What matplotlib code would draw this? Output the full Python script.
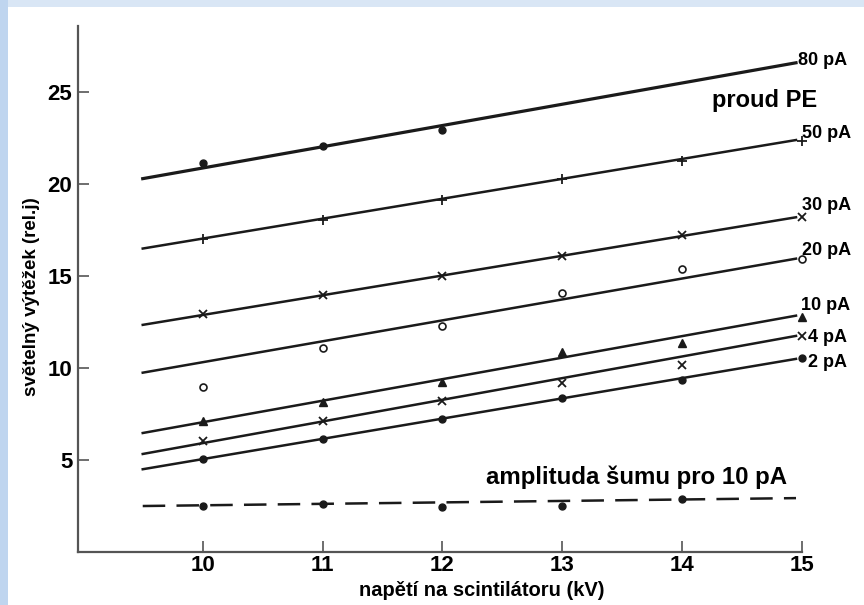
import numpy as np
import matplotlib.pyplot as plt
from matplotlib.patches import Rectangle

plt.rcParams['font.family'] = ['Liberation Sans', 'DejaVu Sans']
plt.rcParams['font.weight'] = 'bold'

# napeti (kV)
kv = np.array([10, 11, 12, 13, 14, 15])

# measured points for each PE current
pts_80 = [21.15, 22.07, 22.95]
pts_50 = [17.0, 18.05, 19.13, 20.3, 21.27, 22.35]
pts_30 = [12.93, 13.97, 15.0, 16.1, 17.25, 18.2]
pts_20 = [8.97, 11.09, 12.28, 14.1, 15.38, 15.92]
pts_10 = [7.12, 8.18, 9.24, 10.87, 11.36, 12.8]
pts_4 = [6.03, 7.12, 8.2, 9.18, 10.16, 11.74]
pts_2 = [5.05, 6.14, 7.23, 8.37, 9.35, 10.54]
pts_noise = [2.5, 2.62, 2.45, 2.5, 2.88]

# fitted lines (start at 9.5 kV, end at 14.95 kV)
fit_x = [9.5, 14.95]
fit_80 = [20.3, 26.6]
fit_50 = [16.5, 22.4]
fit_30 = [12.35, 18.2]
fit_20 = [9.75, 15.95]
fit_10 = [6.47, 12.85]
fit_4 = [5.33, 11.75]
fit_2 = [4.5, 10.5]
fit_noise = [2.5, 2.93]

labels = ['80 pA', '50 pA', '30 pA', '20 pA', '10 pA', '4 pA', '2 pA']
label_y = [26.47, 22.5, 18.6, 16.14, 13.15, 11.41, 10.05]
label_x = [14.97, 15.0, 15.0, 15.0, 14.99, 15.05, 15.05]

fig = plt.figure(figsize=(8.64, 6.05), dpi=100)
fig.patch.set_facecolor('#d9e6f5')
fig.patches.append(Rectangle((8 / 864, 0), 1, 1 - 7 / 605, transform=fig.transFigure,
                             facecolor='white', edgecolor='none', zorder=-10))
fig.patches.append(Rectangle((0, 0), 8 / 864, 1, transform=fig.transFigure,
                             facecolor='#bfd5ef', edgecolor='none', zorder=-10))

ax = fig.add_axes([78 / 864, 1 - 552 / 605, (802 - 78) / 864, (552 - 26) / 605])
ax.set_facecolor('none')

k = '#1a1a1a'
ax.plot(fit_x, fit_80, color=k, lw=2.3)
ax.plot(kv[:3], pts_80, 'o', color=k, ms=5, clip_on=False)
ax.plot(fit_x, fit_50, color=k, lw=1.8)
ax.plot(kv, pts_50, '+', color=k, ms=6.5, mew=1.3, clip_on=False)
ax.plot(fit_x, fit_30, color=k, lw=1.8)
ax.plot(kv, pts_30, 'x', color=k, ms=5.5, mew=1.3, clip_on=False)
ax.plot(fit_x, fit_20, color=k, lw=1.8)
ax.plot(kv, pts_20, 'o', color=k, mfc='white', ms=5, mew=1.2, clip_on=False)
ax.plot(fit_x, fit_10, color=k, lw=1.8)
ax.plot(kv, pts_10, '^', color=k, ms=5.5, clip_on=False)
ax.plot(fit_x, fit_4, color=k, lw=1.8)
ax.plot(kv, pts_4, 'x', color=k, ms=5.5, mew=1.3, clip_on=False)
ax.plot(fit_x, fit_2, color=k, lw=1.8)
ax.plot(kv, pts_2, 'o', color=k, ms=5, clip_on=False)
ax.plot(fit_x, fit_noise, color=k, lw=1.8, linestyle=(0, (9, 4.5)))
ax.plot(kv[:5], pts_noise, 'o', color=k, ms=5)

for t, x, y in zip(labels, label_x, label_y):
    ax.text(x, y, t, fontsize=13, fontweight='bold', va='baseline', ha='left', clip_on=False)
ax.text(14.25, 24.18, 'proud PE', fontsize=17, fontweight='bold', va='baseline', ha='left')
ax.text(12.36, 3.7, 'amplituda šumu pro 10 pA', fontsize=17.3, fontweight='bold',
        va='baseline', ha='left')

ax.set_xlim(8.96, 15.0)
ax.set_ylim(0, 28.6)
ax.set_xticks([10, 11, 12, 13, 14, 15])
ax.set_yticks([5, 10, 15, 20, 25])
ax.tick_params(direction='in', length=8, width=1.2, color='#555555', labelsize=16, pad=2)
ax.tick_params(axis='y', pad=4)
for lab in ax.get_xticklabels() + ax.get_yticklabels():
    lab.set_fontweight('bold')
for s in ['top', 'right']:
    ax.spines[s].set_visible(False)
for s in ['left', 'bottom']:
    ax.spines[s].set_color('#555555')
    ax.spines[s].set_linewidth(1.6)

ax.set_xlabel('napětí na scintilátoru (kV)', fontsize=14.5, fontweight='bold')
ax.xaxis.set_label_coords(0.557, -0.0545)
ax.set_ylabel('světelný výtěžek (rel.j)', fontsize=13.5, fontweight='bold')
ax.yaxis.set_label_coords(-0.053, 0.485)

fig.savefig('out.png', dpi=100, facecolor=fig.get_facecolor())
